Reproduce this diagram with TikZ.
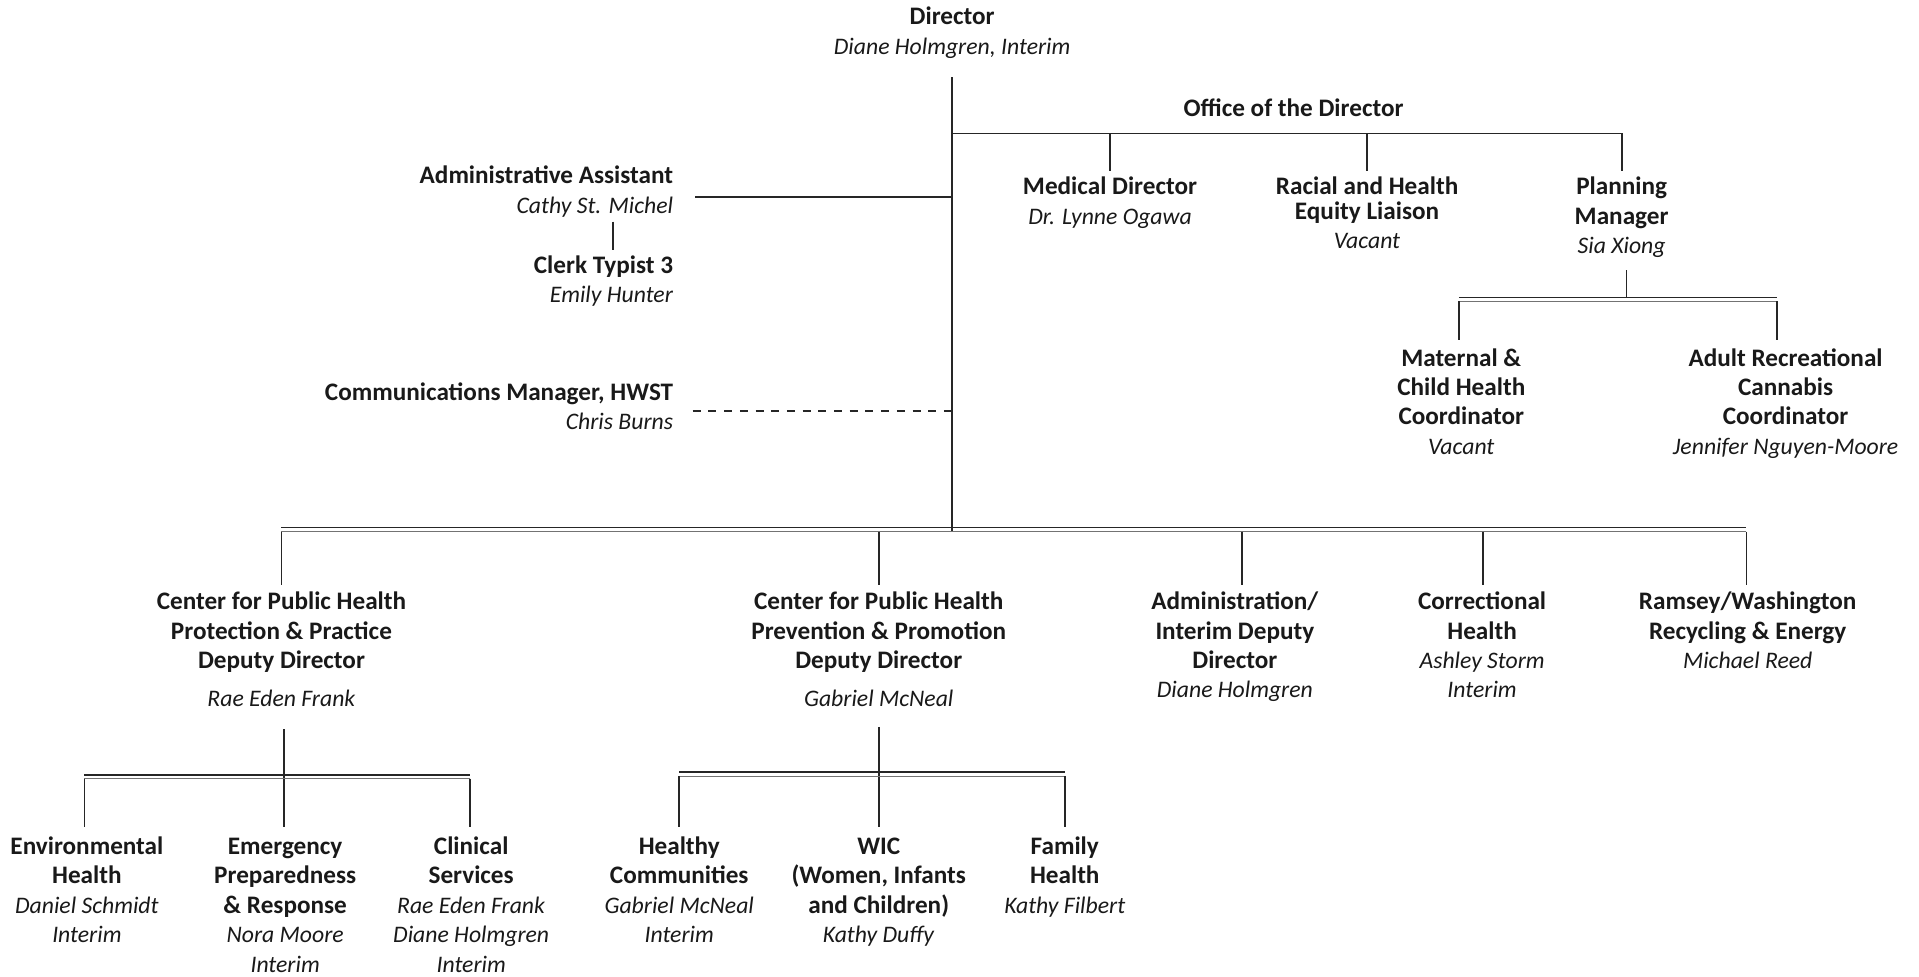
\documentclass[tikz,border=0pt]{standalone}
\usepackage{fontspec}
\setmainfont{Carlito}
\begin{document}
\begin{tikzpicture}[x=1.2239pt,y=-1.2239pt,
  every node/.style={inner sep=0pt, outer sep=0pt, text=black!90},
  box/.style={anchor=north, align=center, font=\fontsize{24.5}{29.4}\selectfont},
  rbox/.style={anchor=north east, align=right, font=\fontsize{24.5}{29.4}\selectfont},
  ln/.style={draw=black!85, line width=1.8pt},
  dln/.style={draw=black!85, line width=1.8pt, dash pattern=on 8pt off 7.7pt},
  bartop/.style={draw=black!85, line width=1.8pt},
  barbot/.style={draw=black!55, line width=1.3pt}]
\newcommand{\tl}[1]{\strut{\fontsize{25.2}{29.4}\selectfont\textbf{#1}}}
\newcommand{\nm}[1]{\strut{\fontsize{23.7}{29.4}\selectfont\textit{#1}}}
\useasboundingbox (0,0) rectangle (1568,798);
% ---------- nodes ----------
\node[box] (director) at (778,3.4) {\tl{Director}\\\nm{Diane Holmgren, Interim}};
\node[box] (office) at (1057,78.4) {\tl{Office of the Director}};
\node[box] (meddir) at (907,142.4) {\tl{Medical Director}\\\nm{Dr. Lynne Ogawa}};
\node[box] (racial) at (1117,142.4) {\tl{Racial and Health}\\[-5pt]\tl{Equity Liaison}\\\nm{Vacant}};
\node[box] (planning) at (1325,142.4) {\tl{Planning}\\\tl{Manager}\\\nm{Sia Xiong}};
\node[box] (maternal) at (1194,282.4) {\tl{Maternal \&}\\\tl{Child Health}\\\tl{Coordinator}\\\nm{Vacant}};
\node[box] (cannabis) at (1459,282.4) {\tl{Adult Recreational}\\\tl{Cannabis}\\\tl{Coordinator}\\\nm{Jennifer Nguyen-Moore}};
\node[rbox] (adminasst) at (550,133.4) {\tl{Administrative Assistant}\\\nm{Cathy St. Michel}};
\node[rbox] (clerk) at (550,206.4) {\tl{Clerk Typist 3}\\\nm{Emily Hunter}};
\node[rbox] (comms) at (550,310.4) {\tl{Communications Manager, HWST}\\\nm{Chris Burns}};
\node[box] (cpp) at (230,481.4) {\tl{Center for Public Health}\\\tl{Protection \& Practice}\\\tl{Deputy Director}\\[9pt]\nm{Rae Eden Frank}};
\node[box] (cpr) at (718,481.4) {\tl{Center for Public Health}\\\tl{Prevention \& Promotion}\\\tl{Deputy Director}\\[9pt]\nm{Gabriel McNeal}};
\node[box] (admin) at (1009,481.4) {\tl{Administration/}\\\tl{Interim Deputy}\\\tl{Director}\\\nm{Diane Holmgren}};
\node[box] (corr) at (1211,481.4) {\tl{Correctional}\\\tl{Health}\\\nm{Ashley Storm}\\\nm{Interim}};
\node[box] (ramsey) at (1428,481.4) {\tl{Ramsey/Washington}\\\tl{Recycling \& Energy}\\\nm{Michael Reed}};
\node[box] (env) at (71,681.4) {\tl{Environmental}\\\tl{Health}\\\nm{Daniel Schmidt}\\\nm{Interim}};
\node[box] (emerg) at (233,681.4) {\tl{Emergency}\\\tl{Preparedness}\\\tl{\& Response}\\\nm{Nora Moore}\\\nm{Interim}};
\node[box] (clinical) at (385,681.4) {\tl{Clinical}\\\tl{Services}\\\nm{Rae Eden Frank}\\\nm{Diane Holmgren}\\\nm{Interim}};
\node[box] (healthy) at (555,681.4) {\tl{Healthy}\\\tl{Communities}\\\nm{Gabriel McNeal}\\\nm{Interim}};
\node[box] (wic) at (718,681.4) {\tl{WIC}\\\tl{(Women, Infants}\\\tl{and Children)}\\\nm{Kathy Duffy}};
\node[box] (family) at (870,681.4) {\tl{Family}\\\tl{Health}\\\nm{Kathy Filbert}};
% ---------- coordinates ----------
\coordinate (dtop) at (778,63);
\coordinate (dbot) at (778,434);
\coordinate (officeL) at (778,109);
\coordinate (officeR) at (1325,109);
\coordinate (medT) at (907,109);
\coordinate (medB) at (907,140);
\coordinate (racT) at (1117,109);
\coordinate (racB) at (1117,140);
\coordinate (planB) at (1325,140);
\coordinate (aaL) at (568,161);
\coordinate (aaR) at (778,161);
\coordinate (aacT) at (501,181);
\coordinate (aacB) at (501,204);
\coordinate (cmL) at (566,336);
\coordinate (cmR) at (778,336);
% planning sub
\coordinate (psT) at (1329,221);
\coordinate (psB) at (1329,243);
\coordinate (psL) at (1192,243);
\coordinate (psR) at (1452,243);
% main bar
\coordinate (mbL) at (230,431);
\coordinate (mbR) at (1427,431);
% left sub
\coordinate (lsT) at (232,596);
\coordinate (lsB) at (232,676);
\coordinate (lsL) at (69,633);
\coordinate (lsR) at (384,633);
% right sub
\coordinate (rsT) at (718,594);
\coordinate (rsB) at (718,676);
\coordinate (rsL) at (555,631);
\coordinate (rsR) at (870,631);
% ---------- connectors ----------
\draw[ln] (dtop) -- (dbot);
\draw[ln] (officeL) -- (officeR) -- (planB);
\draw[ln] (medT) -- (medB);
\draw[ln] (racT) -- (racB);
\draw[ln] (aaL) -- (aaR);
\draw[ln] (aacT) -- (aacB);
\draw[dln] (cmL) -- (cmR);
% planning sub bar
\draw[ln] (psT) -- (psB);
\draw[bartop] (psL) -- (psR);
\draw[barbot] ([yshift=-4pt]psL) -- ([yshift=-4pt]psR);
\draw[ln] ([yshift=-4pt]psL) -- (1192,278);
\draw[ln] ([yshift=-4pt]psR) -- (1452,278);
% main bar
\draw[bartop] (mbL) -- (mbR);
\draw[barbot] ([yshift=-4pt]mbL) -- ([yshift=-4pt]mbR);
\foreach \xx in {230,718,1015,1212,1427}{
  \draw[ln] (\xx,434.3) -- (\xx,478);
}
% left sub
\draw[ln] (lsT) -- (lsB);
\draw[bartop] (lsL) -- (lsR);
\draw[barbot] ([yshift=-4pt]lsL) -- ([yshift=-4pt]lsR);
\draw[ln] ([yshift=-4pt]lsL) -- (69,676);
\draw[ln] ([yshift=-4pt]lsR) -- (384,676);
% right sub
\draw[ln] (rsT) -- (rsB);
\draw[bartop] (rsL) -- (rsR);
\draw[barbot] ([yshift=-4pt]rsL) -- ([yshift=-4pt]rsR);
\draw[ln] ([yshift=-4pt]rsL) -- (555,676);
\draw[ln] ([yshift=-4pt]rsR) -- (870,676);
\end{tikzpicture}
\end{document}
